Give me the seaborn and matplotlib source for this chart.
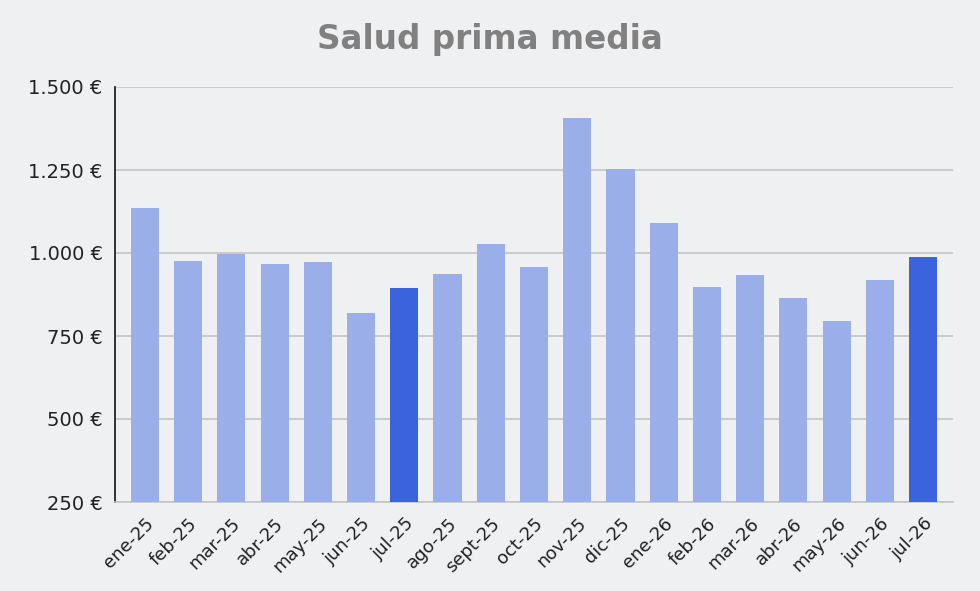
import matplotlib
matplotlib.use("Agg")
import matplotlib.pyplot as plt
import seaborn as sns
import pandas as pd

months = ["ene-25", "feb-25", "mar-25", "abr-25", "may-25", "jun-25", "jul-25",
          "ago-25", "sept-25", "oct-25", "nov-25", "dic-25", "ene-26", "feb-26",
          "mar-26", "abr-26", "may-26", "jun-26", "jul-26"]
prima_media = [1136, 977, 997, 968, 973, 819, 894, 938, 1027, 958, 1408, 1254,
               1090, 898, 933, 863, 794, 919, 987]
highlight = ["jul-25", "jul-26"]

df = pd.DataFrame({"mes": months, "prima": prima_media})
df["grupo"] = ["destacado" if m in highlight else "normal" for m in months]

bg = "#eff0f2"
sns.set_theme(style="white")
plt.rcParams["font.family"] = ["DejaVu Sans"]

fig = plt.figure(figsize=(9.8, 5.91), dpi=100, facecolor=bg)
ax = fig.add_axes([115 / 980, 1 - 502 / 591, 838 / 980, 415 / 591])
ax.set_facecolor(bg)

sns.barplot(data=df, x="mes", y="prima", hue="grupo",
            palette={"normal": "#9aafea", "destacado": "#3b63db"},
            saturation=1, linewidth=0, width=0.65, dodge=False,
            legend=False, ax=ax, zorder=3)

ax.set_ylim(250, 1500)
ax.set_xlim(-0.69, len(months) - 1 + 0.69)
ticks = [250, 500, 750, 1000, 1250, 1500]
ax.set_yticks(ticks)
ax.set_yticklabels([f"{t:,}".replace(",", ".") + " €" for t in ticks],
                   fontsize=14, color="#222222")
ax.yaxis.grid(True, color="#c4c4c4", linewidth=1.2, zorder=0)
ax.set_xticks(range(len(months)))
ax.set_xticklabels(months, rotation=45, ha="right", rotation_mode="anchor",
                   fontsize=13, color="#222222")
ax.tick_params(axis="x", length=0, pad=9)
ax.tick_params(axis="y", length=0, pad=9)
ax.set_xlabel("")
ax.set_ylabel("")

for side in ["top", "right"]:
    ax.spines[side].set_visible(False)
ax.spines["left"].set_color("#111111")
ax.spines["left"].set_linewidth(1.2)
ax.spines["bottom"].set_color("#c4c4c4")
ax.spines["bottom"].set_linewidth(1.2)

fig.text(490 / 980, 1 - 40 / 591, "Salud prima media", ha="center", va="center",
         fontsize=23.5, fontweight="bold", color="#808080")

fig.savefig("out.png", dpi=100, facecolor=bg)
